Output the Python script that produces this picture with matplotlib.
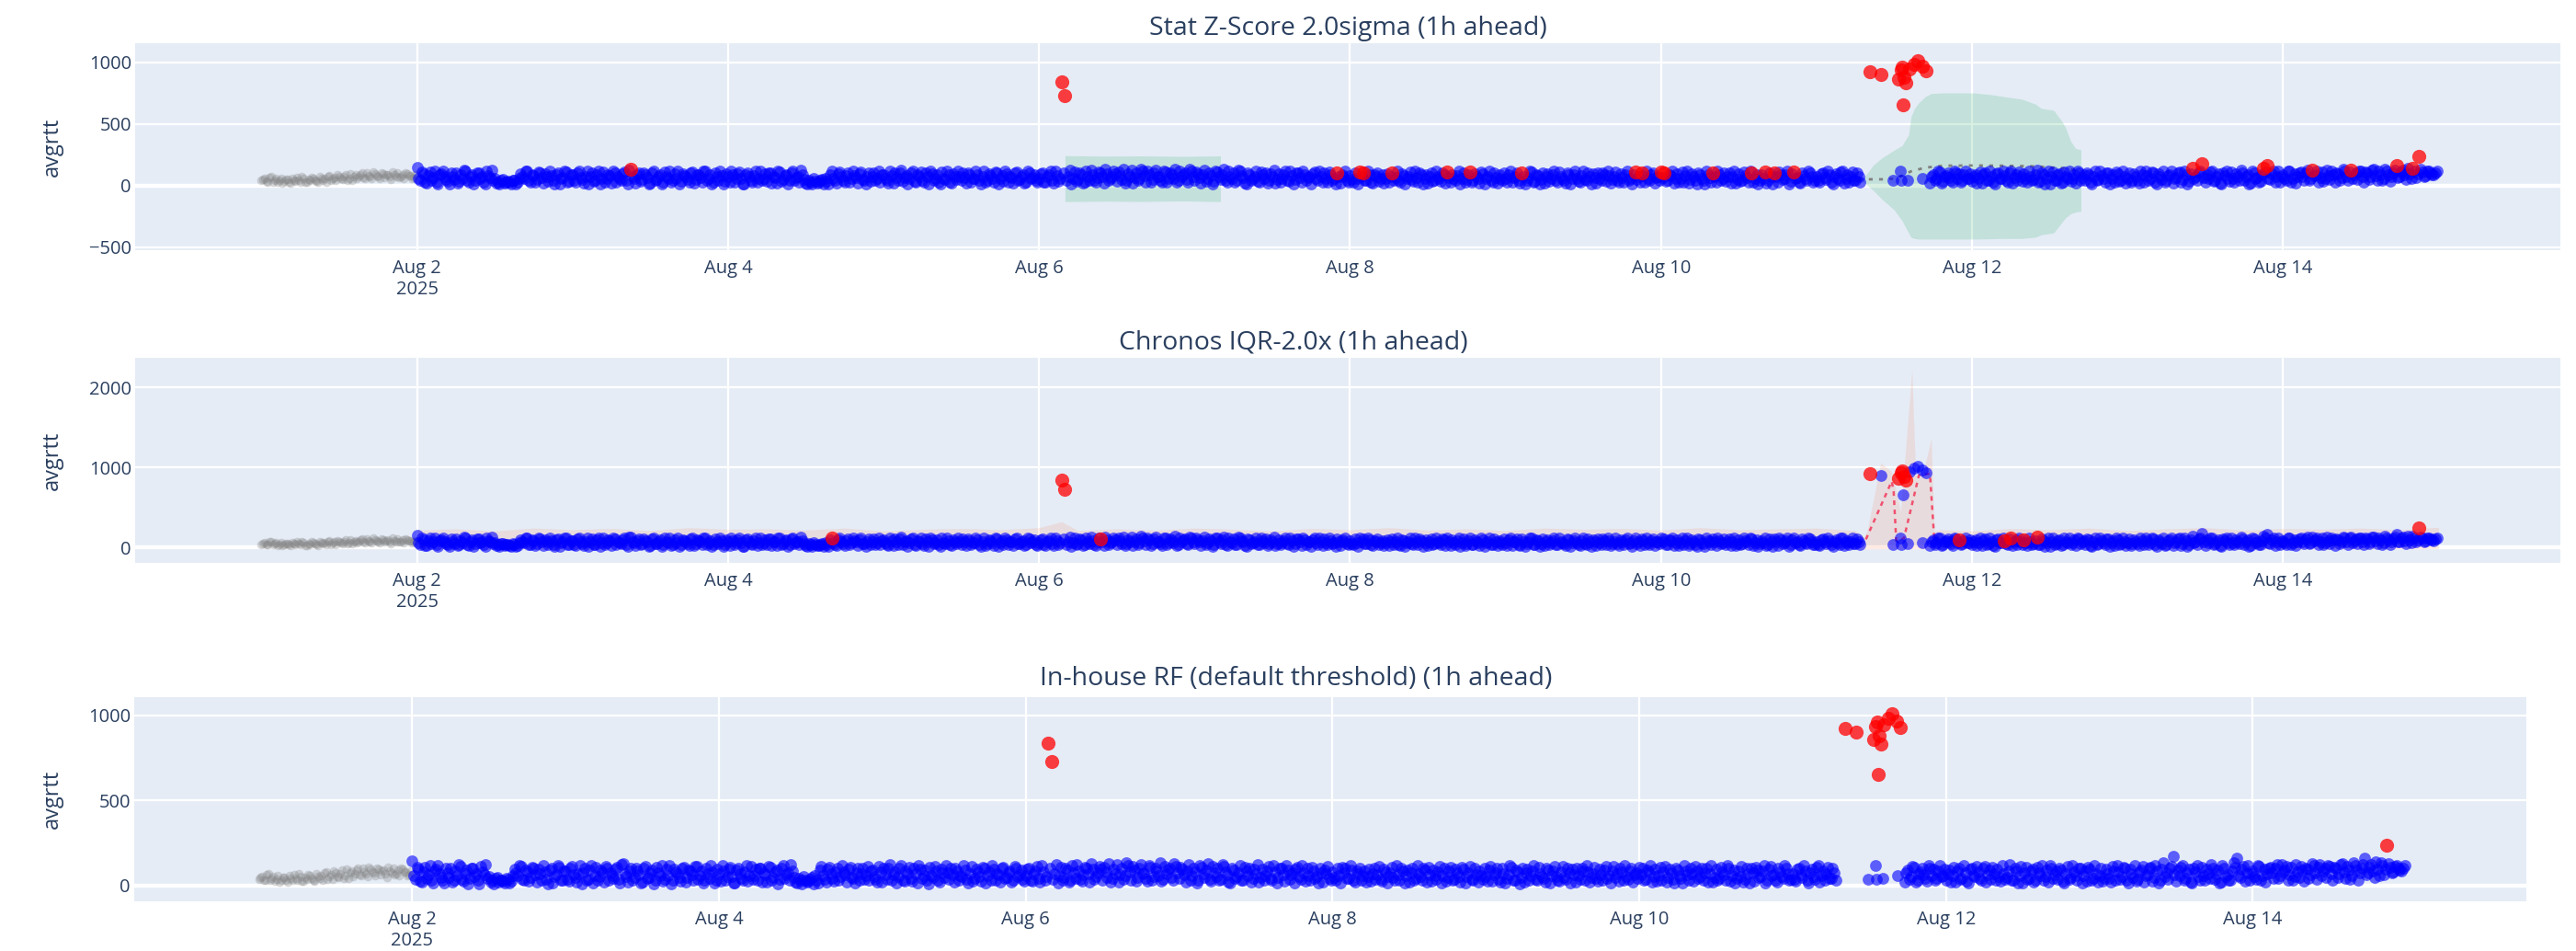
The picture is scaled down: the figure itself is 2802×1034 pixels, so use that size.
import numpy as np
import matplotlib.pyplot as plt

plt.rcParams['font.family'] = ['Open Sans', 'DejaVu Sans']

# x axis: hours since 2025-08-02 00:00
# readings on the hour / half hour ("a" lists) and at :15 / :45 ("b" lists)
hist_a = [
    40, 55, 30, 70, 45, 25, 60, 35, 50, 20, 45, 65,
    30, 55, 25, 40, 60, 35, 70, 45, 30, 80, 55, 40,
    75, 50, 90, 60, 45, 85, 70, 100, 60, 80, 55, 95,
    75, 105, 65, 90, 50, 85, 100, 70, 60, 95, 80, 65,
]
hist_b = [
    50, 35, 65, 30, 55, 40, 20, 50, 30, 60, 35, 45,
    70, 25, 50, 65, 45, 25, 55, 60, 75, 40, 65, 85,
    55, 70, 45, 95, 75, 55, 90, 65, 100, 70, 110, 80,
    60, 95, 85, 70, 110, 75, 65, 90, 105, 80, 60, 85,
]
aug02 = [
    145, 40, 95, 20, 110, 65, 30, 85, 120, 50, 15, 75,
    100, 35, 60, 115, 25, 90, 45, 105, 70, 10, 80, 125,
    55, 30, 45, 20, 35, 15, 40, 25, 95, 60, 115, 30,
    80, 50, 105, 20, 70, 120, 40, 90, 15, 65, 110, 35,
]
aug02b = [
    60, 110, 25, 80, 45, 120, 15, 95, 70, 35, 105, 50,
    20, 85, 125, 40, 70, 10, 100, 55, 30, 115, 65, 45,
    20, 10, 50, 30, 25, 45, 15, 60, 75, 120, 40, 90,
    25, 110, 65, 95, 35, 80, 10, 105, 55, 120, 30, 85,
]
aug03 = [
    85, 25, 115, 50, 70, 10, 100, 40, 120, 60, 30, 90,
    20, 105, 75, 45, 110, 15, 130, 55, 85, 35, 100, 65,
    20, 115, 50, 90, 30, 75, 120, 40, 60, 10, 95, 70,
    25, 110, 50, 85, 30, 115, 60, 15, 100, 45, 80, 35,
]
aug03b = [
    40, 100, 65, 20, 120, 75, 35, 90, 15, 110, 55, 80,
    115, 30, 60, 95, 40, 125, 70, 20, 105, 50, 85, 15,
    100, 45, 75, 10, 110, 60, 25, 95, 120, 35, 80, 50,
    105, 20, 90, 65, 115, 40, 85, 30, 70, 120, 15, 95,
]
aug04 = [
    70, 120, 30, 95, 55, 15, 105, 45, 80, 25, 115, 60,
    35, 100, 75, 20, 110, 50, 90, 40, 120, 65, 30, 85,
    20, 45, 10, 35, 25, 50, 60, 15, 115, 40, 95, 70,
    25, 105, 55, 80, 20, 110, 45, 75, 35, 100, 60, 30,
]
aug04b = [
    25, 85, 55, 110, 15, 90, 70, 30, 120, 60, 40, 95,
    105, 20, 65, 115, 35, 80, 10, 100, 45, 75, 125, 50,
    15, 30, 55, 20, 40, 10, 35, 90, 60, 20, 110, 45,
    80, 30, 120, 65, 95, 50, 15, 105, 70, 40, 115, 85,
]
aug05 = [
    90, 40, 115, 20, 65, 100, 35, 80, 55, 120, 25, 70,
    45, 105, 15, 95, 60, 30, 110, 50, 85, 20, 75, 120,
    40, 65, 100, 30, 55, 90, 15, 115, 45, 80, 25, 105,
    60, 35, 95, 70, 20, 110, 50, 85, 30, 100, 65, 40,
]
aug05b = [
    55, 20, 80, 105, 40, 125, 65, 15, 100, 35, 85, 110,
    25, 70, 120, 45, 90, 10, 60, 115, 30, 95, 50, 75,
    105, 20, 85, 60, 120, 40, 70, 25, 95, 55, 110, 15,
    80, 120, 30, 65, 100, 45, 75, 20, 115, 55, 90, 25,
]
aug06 = [
    60, 105, 25, 85, 45, 120, 35, 840, 730, 70, 15, 110,
    50, 90, 30, 75, 125, 40, 65, 100, 20, 95, 55, 115,
    35, 80, 130, 45, 70, 20, 105, 60, 120, 30, 90, 50,
    125, 75, 25, 110, 55, 85, 135, 40, 70, 100, 30, 115,
]
aug06b = [
    95, 30, 70, 115, 20, 80, 55, 100, 40, 125, 60, 35,
    105, 20, 120, 45, 85, 25, 110, 70, 130, 40, 75, 95,
    110, 50, 20, 95, 125, 65, 40, 135, 80, 115, 25, 100,
    70, 45, 120, 30, 105, 60, 25, 115, 90, 50, 130, 75,
]
aug07 = [
    45, 95, 20, 125, 60, 80, 35, 110, 50, 130, 25, 75,
    100, 40, 115, 65, 15, 90, 55, 120, 30, 85, 105, 45,
    70, 20, 95, 60, 115, 35, 80, 50, 105, 25, 90, 65,
    15, 110, 40, 75, 100, 30, 85, 55, 102, 20, 70, 45,
]
aug07b = [
    110, 65, 85, 35, 100, 15, 120, 70, 90, 40, 115, 55,
    30, 125, 80, 20, 105, 45, 75, 35, 110, 60, 20, 95,
    125, 50, 30, 85, 45, 120, 15, 100, 65, 120, 40, 75,
    95, 55, 120, 25, 60, 110, 45, 15, 75, 90, 115, 30,
]
aug08 = [
    80, 30, 60, 110, 105, 45, 90, 20, 70, 35, 85, 55,
    25, 100, 65, 40, 95, 15, 75, 50, 120, 30, 85, 60,
    20, 105, 45, 70, 35, 90, 110, 25, 60, 80, 15, 100,
    50, 110, 40, 75, 20, 95, 55, 115, 30, 65, 85, 40,
]
aug08b = [
    50, 100, 15, 75, 45, 120, 30, 85, 105, 60, 20, 95,
    70, 40, 115, 25, 80, 55, 110, 35, 65, 100, 15, 90,
    75, 35, 120, 55, 100, 20, 65, 90, 40, 115, 60, 25,
    85, 30, 95, 55, 110, 15, 75, 40, 100, 20, 60, 105,
]
aug09 = [
    55, 90, 25, 75, 40, 100, 15, 65, 110, 35, 80, 50,
    20, 95, 60, 120, 30, 70, 45, 105, 15, 85, 55, 25,
    115, 40, 75, 95, 20, 60, 100, 35, 80, 50, 110, 25,
    65, 90, 45, 15, 112, 70, 100, 30, 55, 85, 20, 75,
]
aug09b = [
    25, 115, 65, 100, 20, 70, 45, 120, 30, 90, 10, 105,
    75, 35, 85, 40, 110, 55, 20, 90, 60, 115, 35, 80,
    50, 100, 15, 65, 105, 40, 85, 120, 20, 70, 45, 95,
    30, 115, 60, 85, 50, 25, 80, 120, 40, 105, 65, 45,
]
aug10 = [
    110, 105, 40, 80, 20, 95, 60, 30, 115, 50, 75, 15,
    90, 45, 120, 65, 105, 25, 85, 55, 35, 100, 70, 20,
    95, 45, 80, 30, 100, 60, 15, 85, 112, 40, 70, 105,
    25, 90, 55, 120, 35, 112, 65, 20, 80, 45, 100, 30,
]
aug10b = [
    65, 35, 90, 120, 55, 25, 110, 80, 20, 95, 40, 105,
    60, 15, 85, 30, 70, 115, 45, 100, 75, 20, 120, 50,
    35, 110, 65, 120, 25, 90, 45, 55, 20, 100, 15, 75,
    110, 50, 85, 15, 95, 60, 30, 105, 55, 120, 70, 40,
]
N = None
aug11 = [
    70, 25, 105, 50, 85, 15, 95, 40, 120, 60, 30, 110,
    45, 75, N, N, N, N, N, N, N, N, N, N,
    N, N, N, N, N, N, N, N, N, N, N, 20,
    90, 55, 110, 35, 80, 65, 25, 100, 95, 45, 120, 60,
]
aug11b = [
    40, 95, 65, 120, 30, 75, 55, 110, 20, 85, 70, 45,
    100, 30, N, N, N, N, N, N, N, N, N, N,
    N, N, N, N, N, N, N, N, N, N, N, 75,
    40, 115, 20, 70, 100, 45, 120, 60, 30, 85, 55, 95,
]
aug12 = [
    35, 90, 60, 20, 105, 45, 75, 15, 100, 55, 80, 30,
    115, 65, 40, 70, 95, 25, 70, 50, 125, 35, 85, 60,
    15, 110, 45, 95, 30, 75, 120, 55, 20, 100, 65, 40,
    90, 15, 115, 50, 80, 30, 105, 60, 25, 95, 45, 70,
]
aug12b = [
    70, 20, 110, 85, 40, 120, 25, 95, 60, 115, 45, 100,
    20, 90, 110, 35, 55, 120, 40, 85, 30, 105, 15, 115,
    75, 40, 85, 20, 110, 60, 35, 90, 120, 45, 85, 105,
    25, 70, 40, 120, 60, 100, 15, 85, 110, 35, 120, 20,
]
aug13 = [
    60, 25, 95, 45, 115, 30, 80, 55, 105, 15, 70, 120,
    40, 90, 20, 65, 110, 50, 85, 35, 137, 75, 100, 175,
    25, 60, 120, 45, 95, 15, 80, 55, 110, 30, 70, 125,
    40, 90, 20, 105, 65, 35, 137, 160, 50, 115, 75, 30,
]
aug13b = [
    105, 45, 70, 20, 85, 120, 40, 110, 30, 95, 50, 25,
    80, 115, 60, 100, 25, 120, 15, 95, 55, 40, 115, 65,
    90, 110, 35, 75, 20, 105, 120, 35, 60, 95, 45, 100,
    70, 15, 120, 55, 30, 85, 110, 60, 95, 25, 120, 70,
]
aug14 = [
    85, 40, 115, 60, 20, 100, 75, 105, 45, 125, 90, 30,
    110, 55, 80, 115, 25, 95, 65, 120, 40, 125, 85, 50,
    115, 30, 100, 70, 130, 45, 90, 60, 120, 35, 105, 160,
    75, 125, 50, 95, 137, 65, 237, 110, 80, 120, 90, 105,
]
aug14b = [
    55, 120, 30, 95, 70, 110, 45, 125, 60, 80, 115, 65,
    35, 125, 50, 90, 105, 45, 130, 75, 110, 60, 100, 120,
    70, 110, 50, 125, 80, 115, 40, 135, 90, 75, 125, 65,
    110, 85, 140, 60, 120, 95, 130, 75, 115, 100, 85, 120,
]
days_a = [aug02, aug03, aug04, aug05, aug06, aug07, aug08,
          aug09, aug10, aug11, aug12, aug13, aug14]
days_b = [aug02b, aug03b, aug04b, aug05b, aug06b, aug07b, aug08b,
          aug09b, aug10b, aug11b, aug12b, aug13b, aug14b]

# irregular readings during the Aug 11 outage (hours since Aug 11 00:00)
burst_h = [8.2, 9.9, 11.8, 12.6, 12.9, 13.0, 13.1, 13.2, 13.4,
           13.5, 13.8, 14.1, 14.3, 15.0, 15.6, 16.3, 16.4, 16.9]
burst_v = [925, 902, 40, 860, 117, 935, 40, 960, 655,
           880, 835, 45, 945, 985, 1010, 965, 58, 928]

# flagged points per model (hours since Aug 2 00:00)
z_anom = [33, 99.5, 100, 142, 145.5, 146, 150.5, 159, 162.5, 170.5,
          188, 189, 192, 192.5, 200, 206, 208, 209.5, 212.5,
          224.2, 225.9, 228.6, 229.0, 229.2, 229.4, 229.5, 229.8,
          230.3, 231.0, 231.6, 232.3, 232.9,
          274, 275.5, 285, 285.5, 292.5, 298.5, 305.5, 308, 309]
chronos_anom = [64, 99.5, 100, 105.5, 224.2, 228.6, 229.0, 229.2,
                229.5, 229.8, 238, 245, 246, 248, 250, 309]
rf_anom = [99.5, 100, 224.2, 225.9, 228.6, 229.0, 229.2, 229.4, 229.5,
           229.8, 230.3, 231.0, 231.6, 232.3, 232.9, 309]

# z-score interval (two forecast windows)
zwin1_h = [100, 106, 112, 118, 124]
zwin1_hi = [242, 238, 240, 236, 240]
zwin1_lo = [-131, -128, -130, -126, -131]
zwin2_h = [7.0, 7.3, 8.7, 10.1, 12.0, 13.2, 14.2, 14.6, 15.1, 15.8, 16.8,
           17.7, 19.6, 24.3, 27.2, 29.0, 31.7, 33.8, 34.7, 36.6, 38.0,
           38.5, 39.2, 40.0, 40.8]
zwin2_hi = [60, 63, 162, 224, 287, 324, 410, 560, 622, 672, 722,
            746, 751, 751, 735, 720, 700, 660, 625, 610, 510,
            460, 361, 300, 290]
zwin2_lo = [40, 25, -37, -112, -199, -286, -385, -422, -430, -435, -435,
            -435, -435, -435, -432, -430, -430, -420, -400, -385, -290,
            -260, -230, -215, -210]
zmean_h = [6.5, 10.1, 12.0, 13.2, 14.6, 16.8, 19.6, 24.3, 29.0, 33.8, 38.0, 40.8]
zmean_v = [50, 50, 55, 80, 115, 145, 160, 162, 160, 155, 140, 120]

# chronos interval: upper edge every 6 h plus detail around spikes
chronos_hi_base = [
    215, 230, 205, 240, 220, 235, 210, 245, 225,
    230, 215, 240, 205, 225, 235, 220, 245, 210,
    230, 215, 240, 225, 205, 235, 220, 245, 215,
    230, 210, 240, 225, 235, 215, 245, 220, 230,
    240, 215, 230, 225, 205, 235, 220, 240, 210,
    230, 245, 215, 235, 225, 240, 220, 250,
]
chronos_extra_h = [99.5, 222.0, 223.3, 223.8, 225.9, 227.56, 228.98,
                   230.72, 231.3, 232.5, 233.7, 234.17, 235.0]
chronos_extra_hi = [320, 210, 130, 200, 1055, 950, 450,
                    2220, 900, 950, 1360, 200, 220]
chronos_floor = -20
fc_h = [5.0, 6.5, 7.5, 11.6, 11.9, 12.3, 12.6, 13.5, 15.8, 17.5, 18.2, 19.5]
fc_v = [60, 55, 77, 824, 700, 80, 80, 115, 900, 920, 60, 60]

# ---------------------------------------------------------------
obs_h, obs_v = [], []
for offset, group in ((0.0, days_a), (0.25, days_b)):
    for d, vals in enumerate(group):
        for k, v in enumerate(vals):
            if v is not None:
                obs_h.append(d * 24 + k * 0.5 + offset)
                obs_v.append(v)
obs_h += [216 + b for b in burst_h]
obs_v += burst_v
obs_h = np.array(obs_h)
obs_v = np.array(obs_v, dtype=float)
hist_h = np.concatenate([np.arange(-24, 0, 0.5), np.arange(-23.75, 0, 0.5)])
hist_v = hist_a + hist_b

BG = '#E5ECF6'
TXT = '#2a3f5f'
W, H = 2802, 1034

fig = plt.figure(figsize=(W / 100, H / 100), dpi=100)


def make_ax(left, right, top, bottom):
    return fig.add_axes([left / W, 1 - bottom / H, (right - left) / W, (bottom - top) / H])


def flagged(anoms):
    a = np.array(anoms)
    return np.any(np.abs(obs_h[:, None] - a[None, :]) < 0.01, axis=1)


def style(ax, ylim, yticks, title, title_x, title_y):
    ax.set_facecolor(BG)
    for s in ax.spines.values():
        s.set_visible(False)
    ax.set_xlim(-43.5, 330.8)
    ax.set_ylim(*ylim)
    ticks = np.arange(0, 289, 48)
    ax.set_xticks(ticks)
    ax.set_xticklabels(['Aug 2\n2025'] + ['Aug %d' % (2 + t // 24) for t in ticks[1:]])
    ax.set_yticks(yticks)
    ax.tick_params(length=0, labelsize=14.5, labelcolor=TXT)
    ax.tick_params(axis='x', pad=7)
    ax.tick_params(axis='y', pad=3)
    ax.grid(color='white', lw=1.6)
    ax.set_axisbelow(True)
    ax.axhline(0, color='white', lw=3.2, zorder=0.8)
    pos = ax.get_position()
    fig.text(57 / W, (pos.y0 + pos.y1) / 2, 'avgrtt', rotation=90,
             ha='center', va='center', fontsize=17, color=TXT)
    fig.text(title_x / W, 1 - title_y / H, title, ha='center', va='center',
             fontsize=20.5, color=TXT)


def points(ax, anoms):
    ax.scatter(hist_h, hist_v, s=48, color='gray', alpha=0.3, lw=0, zorder=2)
    red = flagged(anoms)
    ax.scatter(obs_h[~red], obs_v[~red], s=85, color='blue', alpha=0.6, lw=0, zorder=3)
    ax.scatter(obs_h[red], obs_v[red], s=120, color='red', alpha=0.75, lw=0, zorder=4)


# panel 1: z-score
ax1 = make_ax(147, 2785, 47, 272)
ax1.fill_between(zwin1_h, zwin1_lo, zwin1_hi, color='#3CB371', alpha=0.2, lw=0, zorder=1)
ax1.fill_between(216 + np.array(zwin2_h), zwin2_lo, zwin2_hi, color='#3CB371',
                 alpha=0.2, lw=0, zorder=1)
ax1.plot(216 + np.array(zmean_h), zmean_v, ls=(0, (1.5, 2.5)), color='gray', lw=2, zorder=1.5)
points(ax1, z_anom)
style(ax1, (-525, 1154), [-500, 0, 500, 1000], 'Stat Z-Score 2.0sigma (1h ahead)', 1466, 31)

# panel 2: chronos
ax2 = make_ax(147, 2785, 389, 612)
base_h = np.arange(0, 6 * len(chronos_hi_base), 6)
keep = (base_h < 221) | (base_h > 236)
band_h = np.concatenate([base_h[keep], chronos_extra_h])
band_hi = np.concatenate([np.array(chronos_hi_base)[keep], chronos_extra_hi])
order = np.argsort(band_h)
ax2.fill_between(band_h[order], chronos_floor, band_hi[order], color='#FF7F50',
                 alpha=0.15, lw=0, zorder=1)
ax2.plot(216 + np.array(fc_h), fc_v, ls=(0, (2, 2)), color='#F0506E', lw=1.8, zorder=1.5)
points(ax2, chronos_anom)
style(ax2, (-195, 2368), [0, 1000, 2000], 'Chronos IQR-2.0x (1h ahead)', 1407, 372)

# panel 3: in-house RF
ax3 = make_ax(146, 2748, 758, 980)
points(ax3, rf_anom)
style(ax3, (-92, 1108), [0, 500, 1000], 'In-house RF (default threshold) (1h ahead)', 1410, 738)

fig.savefig('out.png', dpi=100, facecolor='white')
